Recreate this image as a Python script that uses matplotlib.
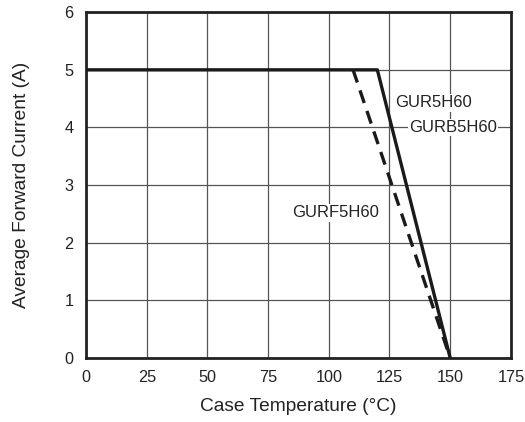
import matplotlib.pyplot as plt

plt.rcParams["font.family"] = ["Liberation Sans", "DejaVu Sans"]
plt.rcParams["font.size"] = 11.7

# derating curves (case temperature, current)
solid_temp = [0, 120, 150]
solid_curr = [5, 5, 0]
dashed_temp = [110, 150]
dashed_curr = [5, 0]

labels = ["GUR5H60", "GURB5H60", "GURF5H60"]
label_pos = [(127.5, 4.43), (133, 4.0), (85, 2.52)]

fig = plt.figure(figsize=(5.25, 4.22), dpi=100)
ax = fig.add_axes([0.164, 0.152, 0.809, 0.819])

ax.set_xlim(0, 175)
ax.set_ylim(0, 6)
ax.set_xticks(range(0, 176, 25))
ax.set_yticks(range(0, 7))
ax.grid(True, color="#555555", linewidth=0.9)
ax.tick_params(length=0, pad=9, labelsize=11.7, colors="#222222")
for s in ax.spines.values():
    s.set_linewidth(2)
    s.set_color("#222222")

ax.plot(solid_temp, solid_curr, color="#1a1a1a", linewidth=2.4, zorder=3)
ax.plot(dashed_temp, dashed_curr, color="#1a1a1a", linewidth=2.4,
        dashes=(4, 2.5), zorder=3)

for txt, (x, y) in zip(labels, label_pos):
    ax.text(x, y, txt, ha="left", va="center", fontsize=12, color="#222222",
            bbox=dict(facecolor="white", edgecolor="none", pad=1), zorder=4)

ax.set_xlabel("Case Temperature (°C)", fontsize=13.8, color="#222222")
ax.set_ylabel("Average Forward Current (A)", fontsize=13.8, color="#222222")
ax.xaxis.set_label_coords(0.5, -0.142)
ax.yaxis.set_label_coords(-0.151, 0.5)
ax.xaxis.label.set_va("center")
ax.yaxis.label.set_va("center")

fig.savefig("out.png", dpi=100)
